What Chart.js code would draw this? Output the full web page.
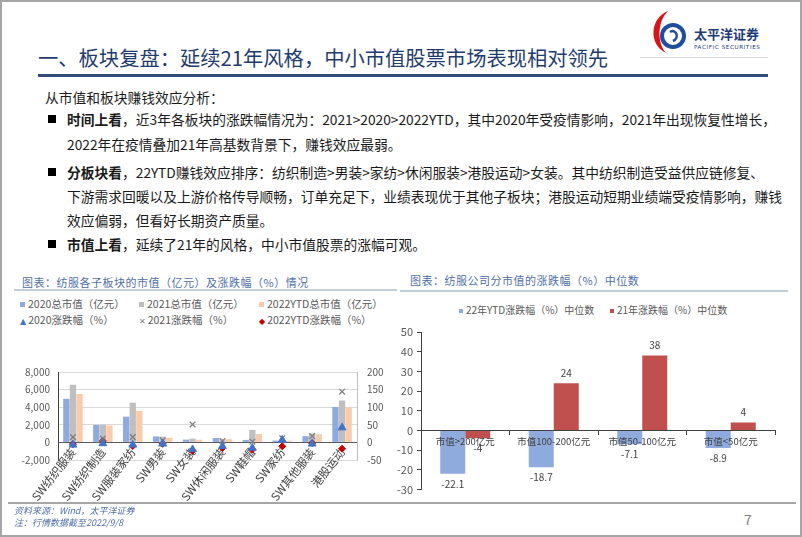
<!DOCTYPE html>
<html>
<head>
<meta charset="utf-8">
<script src="https://cdn.jsdelivr.net/npm/chart.js@4.4.0/dist/chart.umd.min.js"></script>
<style>
body{margin:0;width:802px;height:537px;position:relative;background:#fff;overflow:hidden;font-family:"Noto Sans CJK SC","Noto Sans",sans-serif}
.a{position:absolute;white-space:nowrap}
#frame{left:0;top:0;width:798px;height:533px;border:2px solid #a6a6a6}
#title{left:38px;top:45px;font-size:20.3px;line-height:24px;color:#1f3c6e}
#tline{left:38px;top:74px;width:730px;height:3px;background:#2f4b7c}
#logoline{left:640px;top:57px;width:128px;height:1px;background:#d9d9d9}
.t{font-size:13.75px;line-height:20px;color:#1a1a1a}
.t b{font-weight:bold}
.sq{width:8px;height:8px;background:#000;left:48px}
.ct{font-size:11px;line-height:14px;color:#4f6fa6;letter-spacing:0.5px}
.cl{height:2px;background:#c3cedd}
.lg{font-size:10.5px;line-height:12px;color:#595959}
.mk{display:inline-block;width:5px;height:5px;margin-right:3px;vertical-align:1px}
.foot{font-size:9px;line-height:12px;color:#4f6fa6;font-style:italic;left:14px}
canvas{position:absolute}
</style>
</head>
<body>
<div id="frame" class="a"></div>

<svg class="a" style="left:646px;top:8px" width="124" height="50" viewBox="0 0 124 50">
  <path d="M22 3 C4 10 2 36 20 45 C11 35 11 14 22 3 Z" fill="#d7141a"/>
  <circle cx="27" cy="28" r="11" fill="none" stroke="#1f4e9c" stroke-width="4"/>
  <path d="M24 24 C30 20 34 30 27 33" fill="none" stroke="#1f4e9c" stroke-width="2.5"/>
  <text x="48" y="31" font-size="13" font-weight="bold" fill="#1f3c78" font-family="Noto Sans CJK SC">太平洋证券</text>
  <text x="48" y="41" font-size="5.6" fill="#1f3c78" font-family="DejaVu Sans" letter-spacing="0.6">PACIFIC SECURITIES</text>
</svg>
<div id="logoline" class="a"></div>

<div id="title" class="a">一、板块复盘：延续21年风格，中小市值股票市场表现相对领先</div>
<div id="tline" class="a"></div>

<div class="a t" style="left:45px;top:87px">从市值和板块赚钱效应分析：</div>
<div class="a sq" style="top:115px"></div>
<div class="a t" style="left:67px;top:109px"><b>时间上看</b>，近3年各板块的涨跌幅情况为：2021&gt;2020&gt;2022YTD，其中2020年受疫情影响，2021年出现恢复性增长，</div>
<div class="a t" style="left:67px;top:134px">2022年在疫情叠加21年高基数背景下，赚钱效应最弱。</div>
<div class="a sq" style="top:168px"></div>
<div class="a t" style="left:67px;top:162px"><b>分板块看</b>，22YTD赚钱效应排序：纺织制造&gt;男装&gt;家纺&gt;休闲服装&gt;港股运动&gt;女装。其中纺织制造受益供应链修复、</div>
<div class="a t" style="left:67px;top:186px">下游需求回暖以及上游价格传导顺畅，订单充足下，业绩表现优于其他子板块；港股运动短期业绩端受疫情影响，赚钱</div>
<div class="a t" style="left:67px;top:210px">效应偏弱，但看好长期资产质量。</div>
<div class="a sq" style="top:240px"></div>
<div class="a t" style="left:67px;top:234px"><b>市值上看</b>，延续了21年的风格，中小市值股票的涨幅可观。</div>

<div class="a ct" style="left:22px;top:275px">图表：纺服各子板块的市值（亿元）及涨跌幅（%）情况</div>
<div class="a cl" style="left:14px;top:289px;width:383px"></div>
<div class="a ct" style="left:410px;top:273px">图表：纺服公司分市值的涨跌幅（%）中位数</div>
<div class="a cl" style="left:400px;top:290px;width:388px"></div>

<div id="leg1"></div>
<div id="leg2"></div>
<canvas id="c1" width="400" height="150" style="left:0;top:356px"></canvas>
<canvas id="c2" width="404" height="200" style="left:396px;top:300px"></canvas>

<div class="a" style="left:8px;top:502px;width:788px;height:1.5px;background:#a6a6a6"></div>
<div class="a foot" style="top:505px">资料来源：Wind，太平洋证券</div>
<div class="a foot" style="top:517px">注：行情数据截至2022/9/8</div>
<div class="a" style="left:744px;top:510px;font-size:14px;line-height:18px;color:#7f7f7f">7</div>

<script>
// left chart: 市值 + 涨跌幅
const sectors = ['SW纺织服装', 'SW纺织制造', 'SW服装家纺', 'SW男装', 'SW女装', 'SW休闲服装', 'SW鞋帽', 'SW家纺', 'SW其他服装', '港股运动'];
const cap2020 = [4950, 1990, 2920, 680, 320, 500, 280, 210, 710, 4020];
const cap2021 = [6550, 2000, 4520, 650, 430, 390, 1420, 260, 1000, 4760];
const cap2022 = [5510, 1920, 3590, 530, 300, 360, 960, 200, 920, 3980];
const chg2020 = [-7, -3, -7, -4, -20, -11, -16, 7, -4, 42];
const chg2021 = [15, 11, 15, 6, 51, 4, 2, 12, 18, 144];
const chg2022 = [-5, 4, -10, -4, -24, -16, -20, -11, -2, -18];

// right chart: 分市值中位数
const sizeBands = ['市值>200亿元', '市值100-200亿元', '市值50-100亿元', '市值<50亿元'];
const med22 = [-22.1, -18.7, -7.1, -8.9];
const med21 = [-4, 24, 38, 4];

const FONT = '"Noto Sans CJK SC","Noto Sans",sans-serif';
Chart.defaults.font.family = FONT;

const ds1 = [
  {type: 'bar', label: '2020总市值（亿元）', data: cap2020, backgroundColor: '#8FAADC', yAxisID: 'y', order: 2},
  {type: 'bar', label: '2021总市值（亿元）', data: cap2021, backgroundColor: '#BFBFBF', yAxisID: 'y', order: 2},
  {type: 'bar', label: '2022YTD总市值（亿元）', data: cap2022, backgroundColor: '#F8CBAD', yAxisID: 'y', order: 2},
  {type: 'line', label: '2020涨跌幅（%）', data: chg2020, yAxisID: 'y1', showLine: false, order: 1,
    pointStyle: 'triangle', pointRadius: 4.5, backgroundColor: '#4472C4', borderColor: '#4472C4', mk: '▲'},
  {type: 'line', label: '2021涨跌幅（%）', data: chg2021, yAxisID: 'y1', showLine: false, order: 1,
    pointStyle: 'crossRot', pointRadius: 4, borderWidth: 1.3, backgroundColor: '#7F7F7F', borderColor: '#7F7F7F', mk: '✕'},
  {type: 'line', label: '2022YTD涨跌幅（%）', data: chg2022, yAxisID: 'y1', showLine: false, order: 1,
    pointStyle: 'rectRot', pointRadius: 3.5, backgroundColor: '#C00000', borderColor: '#C00000', mk: '◆'}
];
ds1.forEach(d => { if (d.type === 'bar') { d.categoryPercentage = 0.66; d.barPercentage = 0.96; } });

// html legend, 3 columns x 2 rows
const legCols = [20, 139, 259];
let h = '';
ds1.forEach((d, i) => {
  const x = legCols[i % 3], y = i < 3 ? 298 : 314;
  const m = d.type === 'bar'
    ? `<span class="mk" style="background:${d.backgroundColor}"></span>`
    : `<span style="color:${d.borderColor};font-size:8px;margin-right:2px;font-family:'DejaVu Sans'">${d.mk}</span>`;
  h += `<div class="a lg" style="left:${x}px;top:${y}px">${m}${d.label}</div>`;
});
document.getElementById('leg1').innerHTML = h;

new Chart(document.getElementById('c1'), {
  data: {labels: sectors, datasets: ds1},
  options: {
    responsive: false, animation: false,
    layout: {padding: {top: 10, bottom: 46, left: 0, right: 0}},
    plugins: {legend: {display: false}, tooltip: {enabled: false}},
    scales: {
      x: {
        position: {y: 0}, offset: true,
        grid: {display: false, drawTicks: false},
        border: {display: true, color: '#595959'},
        ticks: {autoSkip: false, maxRotation: 52, minRotation: 52, padding: 3, color: '#404040', font: {size: 11.5}}
      },
      y: {
        position: 'left', min: -2000, max: 8000,
        ticks: {stepSize: 2000, padding: 8, color: '#595959', font: {size: 10}, callback: v => v.toLocaleString('en-US')},
        grid: {color: c => c.tick.value === 0 ? '#595959' : '#d9d9d9', drawTicks: false},
        border: {color: '#404040'},
        afterFit: s => { s.width = 58; }
      },
      y1: {
        position: 'right', min: -50, max: 200,
        ticks: {stepSize: 50, padding: 10, color: '#595959', font: {size: 10}},
        grid: {display: false, drawTicks: false},
        border: {color: '#bfbfbf'},
        afterFit: s => { s.width = 43; }
      }
    }
  }
});

// right chart
const ds2 = [
  {label: '22年YTD涨跌幅（%）中位数', data: med22, backgroundColor: '#8FAADC'},
  {label: '21年涨跌幅（%）中位数', data: med21, backgroundColor: '#C0504D'}
];
const leg2x = [459, 610];
document.getElementById('leg2').innerHTML = ds2.map((d, i) =>
  `<div class="a lg" style="font-size:10px;left:${leg2x[i]}px;top:304px"><span class="mk" style="width:4px;height:4px;background:${d.backgroundColor}"></span>${d.label}</div>`
).join('');

const valueLabels = {
  id: 'valueLabels',
  afterDatasetsDraw(chart) {
    const ctx = chart.ctx;
    ctx.save();
    ctx.font = '10px ' + FONT;
    ctx.fillStyle = '#404040';
    ctx.textAlign = 'center';
    ctx.textBaseline = 'middle';
    chart.data.datasets.forEach((d, i) => {
      chart.getDatasetMeta(i).data.forEach((el, j) => {
        const v = d.data[j];
        ctx.fillText(String(v), el.x, v >= 0 ? el.y - 10 : el.y + 10);
      });
    });
    ctx.restore();
  }
};

new Chart(document.getElementById('c2'), {
  type: 'bar',
  data: {labels: sizeBands, datasets: ds2.map(d => Object.assign({categoryPercentage: 0.565, barPercentage: 1}, d))},
  options: {
    responsive: false, animation: false,
    layout: {padding: {top: 32, bottom: 8, left: 0, right: 25}},
    plugins: {legend: {display: false}, tooltip: {enabled: false}},
    scales: {
      x: {
        position: {y: 0},
        grid: {drawOnChartArea: false, drawTicks: true, tickLength: 4, color: '#404040', offset: true, z: 1},
        border: {color: '#404040', z: 1},
        ticks: {padding: 1, color: '#404040', font: {size: 9.5}, z: 1}
      },
      y: {
        min: -30, max: 50,
        ticks: {stepSize: 10, padding: 4, color: '#595959', font: {size: 11}},
        grid: {drawOnChartArea: false, drawTicks: true, tickLength: 4, color: '#404040'},
        border: {color: '#404040'},
        afterFit: s => { s.width = 25; }
      }
    }
  },
  plugins: [valueLabels]
});
</script>
</body>
</html>
